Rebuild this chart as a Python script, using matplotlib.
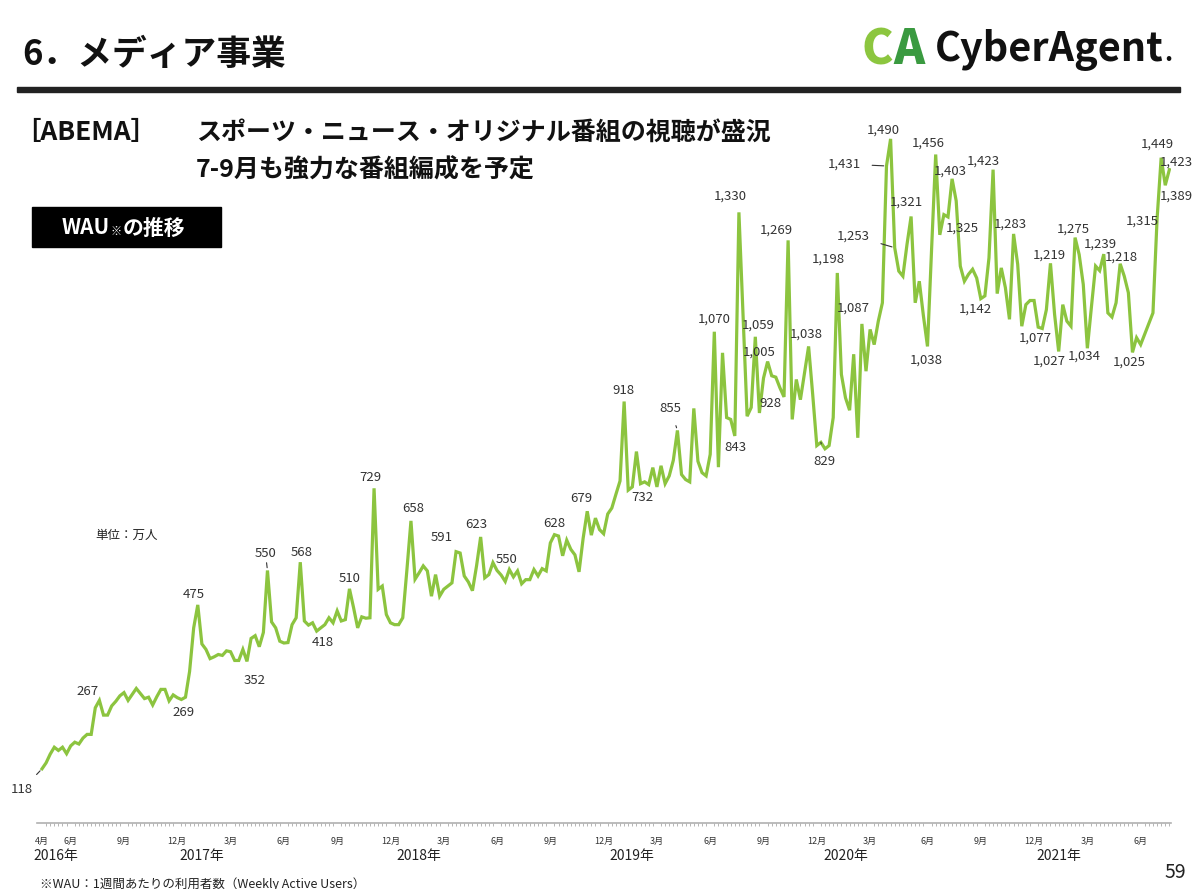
import matplotlib.pyplot as plt
import matplotlib.patches as patches
import pandas as pd

plt.rcParams['font.family'] = ['Noto Sans CJK JP', 'DejaVu Sans']

# ABEMA WAU (万人), weekly from 2016-04-11
start_date = '2016-04-11'
wau = [
    118, 131, 150, 165, 158, 165, 151, 168, 176, 172,
    185, 193, 193, 251, 267, 235, 235, 255, 265, 277,
    284, 267, 280, 293, 282, 271, 274, 257, 275, 291,
    291, 266, 279, 273, 269, 274, 330, 425, 475, 390,
    378, 358, 362, 367, 365, 375, 373, 354, 354, 378,
    352, 402, 408, 384, 415, 550, 438, 425, 396, 392,
    393, 432, 447, 568, 440, 431, 436, 418, 425, 432,
    447, 436, 462, 440, 443, 510, 469, 425, 449, 446,
    447, 729, 509, 516, 454, 436, 432, 432, 447, 550,
    658, 531, 545, 560, 549, 494, 541, 494, 509, 516,
    523, 591, 588, 538, 525, 506, 560, 623, 534, 541,
    567, 550, 540, 526, 552, 536, 549, 521, 530, 530,
    552, 538, 554, 549, 610, 628, 625, 582, 616, 596,
    584, 547, 620, 679, 627, 664, 639, 630, 673, 686,
    716, 745, 918, 725, 732, 809, 739, 743, 737, 774,
    732, 778, 739, 756, 790, 855, 759, 748, 743, 903,
    788, 763, 756, 803, 1070, 775, 1024, 883, 879, 843,
    1330, 1108, 886, 905, 1059, 893, 969, 1005, 974, 971,
    948, 928, 1269, 879, 966, 922, 980, 1038, 933, 822,
    829, 815, 822, 883, 1198, 977, 926, 899, 1021, 839,
    1087, 984, 1075, 1042, 1093, 1133, 1431, 1490, 1253, 1202,
    1191, 1260, 1321, 1133, 1180, 1105, 1038, 1250, 1456, 1281,
    1325, 1320, 1403, 1355, 1213, 1180, 1195, 1206, 1187, 1142,
    1148, 1231, 1423, 1153, 1209, 1166, 1097, 1283, 1217, 1082,
    1129, 1138, 1138, 1080, 1077, 1118, 1219, 1108, 1027, 1129,
    1093, 1082, 1275, 1238, 1173, 1034, 1125, 1213, 1203, 1239,
    1111, 1102, 1133, 1218, 1191, 1155, 1025, 1057, 1042, 1065,
    1088, 1111, 1315, 1449, 1389, 1423,
]

label_weeks = [0, 14, 34, 38, 50, 55, 63, 67, 75, 81, 90, 101, 107, 111,
               125, 133, 142, 144, 155, 164, 169, 170, 174, 177, 181, 182,
               187, 190, 194, 200, 206, 207, 208, 212, 216, 218, 220, 222,
               229, 232, 237, 244, 246, 248, 252, 255, 259, 263, 266, 272,
               273, 274, 275]

# label offset from its point in pixels (right, down)
label_offsets = [(-20, 21), (-12, -9), (2, 13), (-4, -10), (8, 19), (-2, -17),
                 (1, -10), (6, 11), (0, -10), (-4, -11), (2, -12), (-14, -14),
                 (-4, -12), (10, -11), (0, -11), (-6, -13), (-1, -11), (10, 11),
                 (-7, -22), (0, -13), (1, 12), (-9, -16), (3, -12), (-8, -9),
                 (-14, 7), (-12, -10), (-2, -12), (4, 19), (-9, -14), (-9, -16),
                 (-42, -2), (-7, -9), (-41, -12), (-5, -14), (-1, 14), (-7, -11),
                 (18, 13), (-2, -8), (-5, 10), (-10, -9), (-3, -10), (-7, 10),
                 (-1, -8), (-9, 10), (-2, -8), (-3, 8), (-3, -10), (1, -7),
                 (-3, 10), (-15, 2), (-4, -14), (11, 11), (7, -8)]
leader_weeks = [0, 55, 155, 190, 206, 208]

W, H = 1200, 889
fig = plt.figure(figsize=(W / 100, H / 100), dpi=100)


def ft(x, y, s, **kw):
    return fig.text(x / W, 1 - y / H, s, **kw)


# header
ft(22, 55, '6．メディア事業', fontsize=25, fontweight='bold', va='center', color='#111')
fig.add_artist(patches.Rectangle((17 / W, 1 - 92 / H), 1163 / W, 5 / H,
                                 transform=fig.transFigure, color='#222'))
ft(862, 50, 'C', fontsize=34, fontweight='heavy', color='#8cc63f', va='center')
ft(893, 50, 'A', fontsize=34, fontweight='heavy', color='#3a9a40', va='center')
ft(935, 50, 'CyberAgent', fontsize=28.5, fontweight='bold', color='#111', va='center')
ft(1164, 54, '.', fontsize=18, fontweight='bold', color='#111', va='center')

ft(14, 133, '［ABEMA］', fontsize=19, fontweight='bold', va='center', color='#111')
ft(196, 133, 'スポーツ・ニュース・オリジナル番組の視聴が盛況', fontsize=18,
   fontweight='bold', va='center', color='#111')
ft(196, 170, '7-9月も強力な番組編成を予定', fontsize=18, fontweight='bold',
   va='center', color='#111')

fig.add_artist(patches.Rectangle((32 / W, 1 - 247 / H), 189 / W, 40 / H,
                                 transform=fig.transFigure, color='#000'))
ft(62, 228, 'WAU', fontsize=15, fontweight='bold', color='white', va='center')
ft(111, 231, '※', fontsize=8, fontweight='bold', color='white', va='center')
ft(123, 228, 'の推移', fontsize=15, fontweight='bold', color='white', va='center')

ft(95, 535, '単位：万人', fontsize=9, color='#222', va='center')
ft(40, 884, '※WAU：1週間あたりの利用者数（Weekly Active Users）', fontsize=9,
   color='#222', va='center')
ft(1175, 873, '59', fontsize=14, color='#222', va='center', ha='center')

# chart
ax = fig.add_axes([37 / W, 1 - 823 / H, 1134 / W, 723 / H])
n = len(wau)
weeks = list(range(n))
ax.plot(weeks, wau, color='#8cc43f', lw=2.3, solid_joinstyle='miter')
ax.set_xlim(-1.22, 275.4)
ax.set_ylim(0, 723 * 2.178)

for w, (dx, dy) in zip(label_weeks, label_offsets):
    txt = f'{wau[w]:,}'
    if w in leader_weeks:
        ax.annotate(txt, (w, wau[w]), xytext=(dx, -dy), textcoords='offset pixels',
                    ha='center', va='center', fontsize=9.5, color='#333',
                    arrowprops=dict(arrowstyle='-', color='#333', lw=0.8,
                                    shrinkA=6, shrinkB=2))
    else:
        ax.annotate(txt, (w, wau[w]), xytext=(dx, -dy), textcoords='offset pixels',
                    ha='center', va='center', fontsize=9.5, color='#333')

# month / year ticks
dates = pd.date_range(start_date, periods=n, freq='7D')
tick_pos, tick_lab = [0], ['4月']
year_pos = {}
for i, d in enumerate(dates):
    end = d + pd.Timedelta(days=6)
    if d.day == 1 or d.month != end.month:
        m = d.month if d.day == 1 else end.month
        if m in (3, 6, 9, 12):
            tick_pos.append(i)
            tick_lab.append(f'{m}月')
        if m == 1:
            year_pos[end.year] = i
ax.set_xticks(tick_pos)
ax.set_xticklabels(tick_lab, fontsize=6.5, color='#333')
ax.set_xticks(weeks, minor=True)
ax.tick_params(axis='x', which='major', length=0, pad=10)
ax.tick_params(axis='x', which='minor', length=2, color='#aaa', width=0.6)
ax.set_yticks([])
for s in ['top', 'right', 'left']:
    ax.spines[s].set_visible(False)
ax.spines['bottom'].set_color('#b0b0b0')
ax.spines['bottom'].set_linewidth(1.2)

ax.text(-2.2, -0.046, '2016年', transform=ax.get_xaxis_transform(), fontsize=10,
        color='#222', va='center', ha='left')
for yr, i in year_pos.items():
    ax.text(i + 2, -0.046, f'{yr}年', transform=ax.get_xaxis_transform(),
            fontsize=10, color='#222', va='center', ha='center')

fig.savefig('out.png', dpi=100)
